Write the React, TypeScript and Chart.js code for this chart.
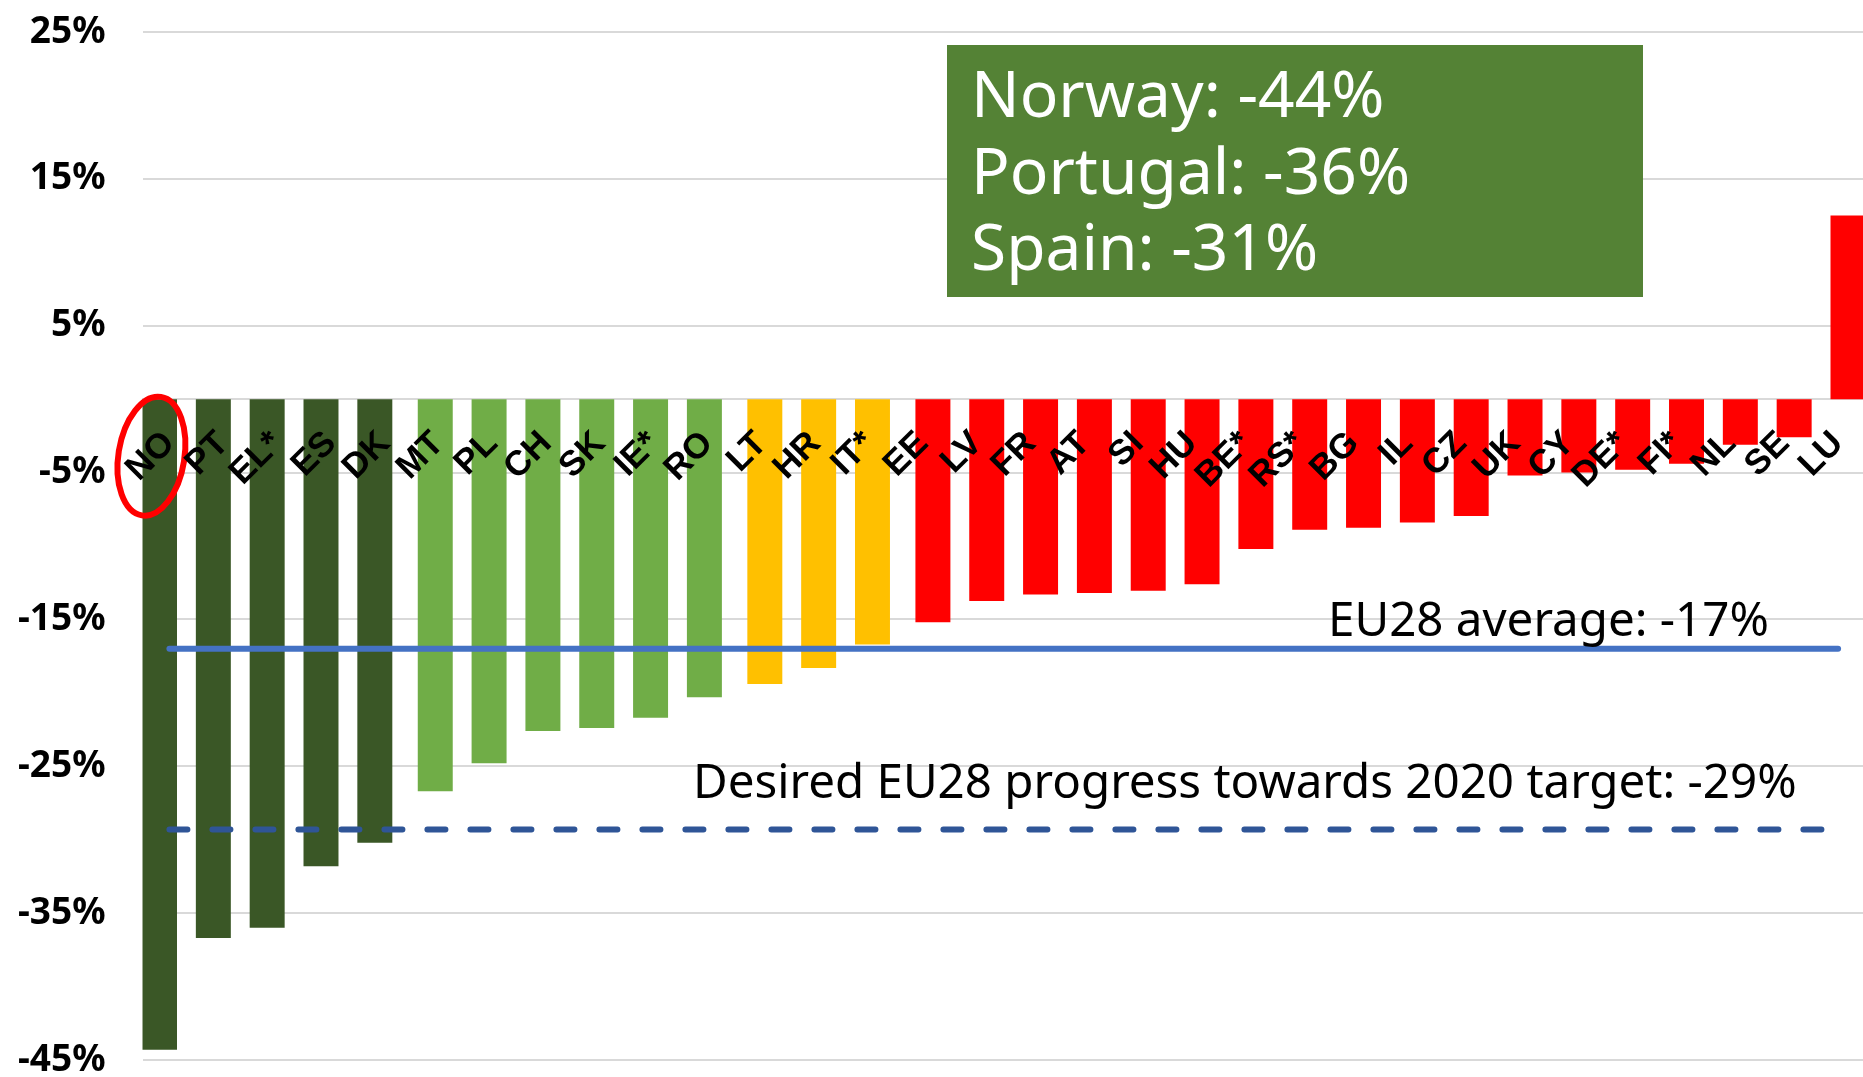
import React, { useEffect, useRef } from "react";
import { Chart, registerables } from "chart.js";

Chart.register(...registerables);

const categories = ["NO", "PT", "EL*", "ES", "DK", "MT", "PL", "CH", "SK", "IE*", "RO", "LT", "HR", "IT*", "EE", "LV", "FR", "AT", "SI", "HU", "BE*", "RS*", "BG", "IL", "CZ", "UK", "CY", "DE*", "FI*", "NL", "SE", "LU"];
const changeValues = [-44.3, -36.7, -36.0, -31.8, -30.2, -26.7, -24.8, -22.6, -22.4, -21.7, -20.3, -19.4, -18.3, -16.7, -15.2, -13.75, -13.3, -13.2, -13.05, -12.6, -10.2, -8.9, -8.75, -8.4, -7.95, -5.2, -5.0, -4.8, -4.4, -3.1, -2.6, 12.5];
// colour group of each country: 0 dark green, 1 light green, 2 yellow, 3 red
const groupOf = [0, 0, 0, 0, 0, 1, 1, 1, 1, 1, 1, 2, 2, 2, 3, 3, 3, 3, 3, 3, 3, 3, 3, 3, 3, 3, 3, 3, 3, 3, 3, 3];
const groupColors = ["#3A5726", "#70AD47", "#FFC000", "#FF0000"];
const euAverage = -17;
const euTarget = -29.3;
const avgLabel = "EU28 average: -17%";
const targetLabel = "Desired EU28 progress towards 2020 target: -29%";
const boxLines = ["Norway: -44%", "Portugal: -36%", "Spain: -31%"];
const yMin = -45;
const yMax = 25;
const yStep = 10;

const annotationPlugin = {
  id: "annotations",
  afterDatasetsDraw(chart: any) {
    const ctx = chart.ctx;
    const xs = chart.scales.x;
    const ys = chart.scales.y;
    ctx.save();
    // green summary box
    ctx.fillStyle = "#548235";
    ctx.fillRect(947, 45, 696, 252);
    ctx.fillStyle = "#FFFFFF";
    ctx.font = '64px "Noto Sans"';
    ctx.textAlign = "left";
    ctx.textBaseline = "alphabetic";
    boxLines.forEach((t, i) => ctx.fillText(t, 971, 117 + i * 76.7));
    // reference line labels
    ctx.fillStyle = "#000000";
    ctx.font = '47.5px "Noto Sans"';
    ctx.fillText(avgLabel, 1328, ys.getPixelForValue(euAverage) - 13);
    ctx.fillText(targetLabel, 693, ys.getPixelForValue(euTarget) - 31);
    // red ellipse around NO
    const cx = xs.getPixelForValue(0) - 18;
    const cy = ys.getPixelForValue(0) + 57;
    ctx.strokeStyle = "#FF0000";
    ctx.lineWidth = 6;
    ctx.beginPath();
    ctx.ellipse(cx, cy, 33, 60, 0.16, 0, Math.PI * 2);
    ctx.stroke();
    ctx.restore();
  },
};

export default function App() {
  const canvasRef = useRef<HTMLCanvasElement | null>(null);

  useEffect(() => {
    const canvas = canvasRef.current;
    if (!canvas) return;
    const barSets = groupColors.map((color, g) => ({
      type: "bar" as const,
      label: "group" + g,
      data: changeValues.map((v, i) => (groupOf[i] === g ? v : null)),
      backgroundColor: color,
      borderWidth: 0,
      categoryPercentage: 0.4904,
      barPercentage: 5.3,
      order: 1,
    }));
    const chart = new Chart(canvas, {
      type: "bar",
      data: {
        labels: categories,
        datasets: [
          {
            type: "line" as const,
            label: "avg",
            data: categories.map(() => euAverage),
            borderColor: "#4472C4",
            borderWidth: 6,
            borderCapStyle: "round",
            pointRadius: 0,
            fill: false,
            order: 0,
          },
          {
            type: "line" as const,
            label: "target",
            data: categories.map(() => euTarget),
            borderColor: "#2F5597",
            borderWidth: 6,
            borderCapStyle: "round",
            borderDash: [18, 25],
            pointRadius: 0,
            fill: false,
            order: 0,
          },
          ...barSets,
        ] as any,
      },
      options: {
        responsive: false,
        animation: false,
        layout: { padding: { top: 32, bottom: 17, left: 0, right: 0 } },
        plugins: { legend: { display: false }, tooltip: { enabled: false } },
        scales: {
          x: {
            type: "category",
            position: { y: 0 } as any,
            offset: true,
            grid: { display: true, drawOnChartArea: false, drawTicks: false },
            border: { display: true, color: "#D9D9D9", width: 2 },
            ticks: {
              z: 1,
              autoSkip: false,
              minRotation: 45,
              maxRotation: 45,
              padding: 24,
              color: "#000000",
              font: { family: '"Liberation Sans", Arial, sans-serif', weight: "bold", size: 35 },
            },
            afterFit: (s: any) => {
              s.paddingLeft = 0;
              s.paddingRight = 0;
            },
          },
          y: {
            type: "linear",
            min: yMin,
            max: yMax,
            ticks: {
              stepSize: yStep,
              padding: 37,
              color: "#000000",
              font: { family: '"Noto Sans", sans-serif', weight: "bold", size: 37 },
              callback: (v: any) => `${v}%`,
            },
            grid: { color: "#D9D9D9", lineWidth: 2, drawTicks: false },
            border: { display: false },
            afterFit: (s: any) => {
              s.width = 142.5;
              s.paddingTop = 0;
              s.paddingBottom = 0;
            },
          },
        },
      } as any,
      plugins: [annotationPlugin],
    });
    return () => chart.destroy();
  }, []);

  return (
    <div style={{ position: "fixed", left: 0, top: 0, width: 1863, height: 1077, overflow: "hidden", background: "#FFFFFF" }}>
      <canvas ref={canvasRef} width={1865} height={1077} style={{ display: "block" }} />
    </div>
  );
}
